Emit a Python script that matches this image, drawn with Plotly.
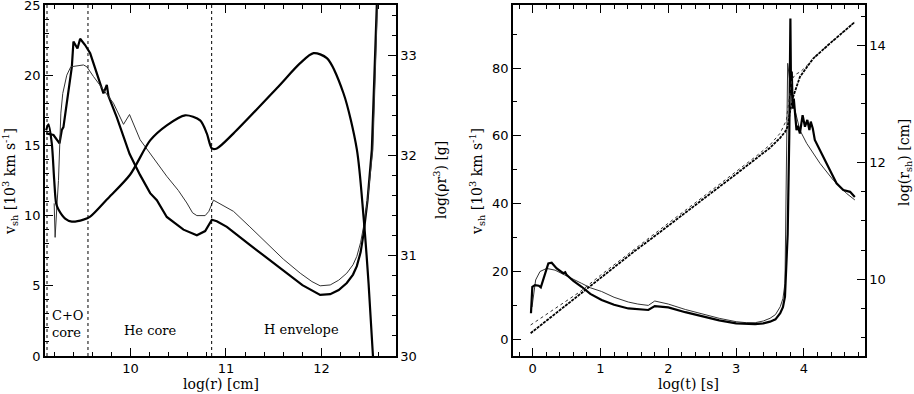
import plotly.graph_objects as go
from plotly.subplots import make_subplots

# ---------------- Left panel data ----------------
# log(rho r^3) vs log(r)  (right axis)
lr_rho = [9.117, 9.141, 9.176, 9.201, 9.222, 9.246, 9.316, 9.386, 9.508, 9.578, 9.752, 9.997,
          10.206, 10.380, 10.572, 10.729, 10.799, 10.852, 10.904, 11.079, 11.532, 11.777,
          11.917, 12.056, 12.230, 12.370, 12.440, 12.493, 12.545]
rho_r3 = [32.25, 32.31, 32.12, 31.76, 31.52, 31.46, 31.37, 31.34, 31.36, 31.39, 31.56, 31.81,
          32.15, 32.30, 32.40, 32.35, 32.22, 32.07, 32.07, 32.22, 32.67, 32.92,
          33.02, 32.97, 32.62, 32.06, 31.39, 30.72, 29.90]

# v_sh vs log(r), thick model
lr_v_thick = [9.117, 9.194, 9.257, 9.281, 9.298, 9.386, 9.403, 9.445, 9.473, 9.525, 9.578,
              9.647, 9.717, 9.752, 9.770, 9.857, 9.92, 9.990, 10.1, 10.206, 10.276, 10.380,
              10.555, 10.695, 10.782, 10.852, 10.904, 11.009, 11.253, 11.602, 11.8, 11.986,
              12.091, 12.18, 12.265, 12.33, 12.370, 12.41, 12.440, 12.482, 12.527, 12.579]
v_thick = [15.86, 15.74, 15.15, 16.1, 16.3, 20.6, 22.4, 21.9, 22.6, 22.15, 21.56,
           20.1, 18.7, 19.3, 18.5, 17.0, 15.7, 14.4, 12.9, 11.6, 11.1, 9.9,
           9.0, 8.6, 8.9, 9.7, 9.6, 9.2, 7.9, 6.1, 5.05, 4.35,
           4.4, 4.7, 5.2, 5.8, 6.4, 7.4, 8.7, 11.1, 14.7, 25.0]

# v_sh vs log(r), thin model
lr_v_thin = [9.201, 9.211, 9.229, 9.246, 9.271, 9.291, 9.333, 9.375, 9.508, 9.543, 9.613,
             9.735, 9.822, 9.927, 9.990, 10.101, 10.25, 10.380, 10.5, 10.590, 10.65, 10.695,
             10.782, 10.82, 10.869, 11.079, 11.25, 11.428, 11.6, 11.777, 11.9, 11.986,
             12.091, 12.18, 12.265, 12.33, 12.370, 12.41, 12.440, 12.482, 12.538, 12.586]
v_thin = [10.87, 8.45, 10.6, 12.5, 17.3, 18.7, 20.0, 20.6, 20.73, 20.6, 19.9,
          18.8, 18.0, 16.5, 17.2, 15.4, 14.0, 12.8, 11.8, 10.9, 10.2, 10.0,
          10.0, 10.3, 11.1, 10.3, 9.2, 8.0, 6.9, 5.9, 5.3, 5.0,
          5.06, 5.4, 5.9, 6.5, 7.1, 8.1, 9.2, 11.1, 14.7, 25.0]

# composition boundaries, log(r)
boundaries = [9.126, 9.555, 10.85]
region_labels = ["C+O<br>core", "He core", "H envelope"]

# ---------------- Right panel data ----------------
lt_v_thick = [-0.025, -0.005, 0.034, 0.09, 0.12, 0.157, 0.206, 0.231, 0.28, 0.354, 0.45,
              0.48, 0.50, 0.6, 0.722, 0.85, 1.017, 1.2, 1.41, 1.55, 1.705, 1.80, 2.0, 2.25,
              2.5, 2.75, 3.0, 3.15, 3.28, 3.4, 3.5, 3.58, 3.65, 3.69, 3.72, 3.76, 3.784,
              3.80, 3.81, 3.82, 3.835, 3.85, 3.867, 3.89, 3.91, 3.94, 3.98, 4.015, 4.05,
              4.08, 4.10, 4.13, 4.16, 4.21, 4.285, 4.38, 4.48, 4.58, 4.68, 4.75]
tv_thick = [7.7, 15.5, 16.0, 15.8, 15.3, 17.5, 20.9, 22.4, 22.6, 20.9, 19.5,
            19.8, 19.0, 17.2, 15.5, 13.4, 11.6, 10.2, 9.1, 8.9, 8.65, 9.8, 9.4, 8.0,
            6.7, 5.6, 4.7, 4.5, 4.5, 4.7, 5.2, 5.9, 7.7, 9.5, 12.6, 31.0, 60.7,
            94.6, 72.0, 79.0, 68.0, 71.0, 66.6, 61.7, 63.0, 60.7, 66.1, 62.7, 64.7,
            61.7, 64.2, 62.2, 58.8, 56.8, 53.9, 49.9, 46.0, 44.0, 43.5, 42.0]

lt_v_thin = [-0.01, 0.01, 0.044, 0.108, 0.206, 0.33, 0.5, 0.6, 0.722, 0.85, 1.017, 1.2,
             1.41, 1.55, 1.705, 1.80, 2.0, 2.25, 2.5, 2.75, 3.0, 3.15, 3.28, 3.4, 3.5, 3.58,
             3.65, 3.69, 3.72, 3.745, 3.76, 3.784, 3.818, 3.867, 3.94, 4.04, 4.236, 4.43,
             4.63, 4.75]
tv_thin = [9.5, 12.5, 17.5, 20.0, 20.9, 20.4, 18.8, 17.8, 16.5, 15.2, 14.1, 12.4,
           11.0, 10.4, 10.0, 11.3, 10.4, 8.8, 7.4, 6.2, 5.2, 4.9, 4.9, 5.4, 6.2, 7.3,
           9.6, 12.0, 16.5, 51.0, 81.4, 77.4, 71.5, 67.6, 61.7, 57.8, 51.9, 47.0,
           43.0, 41.1]

lt_r_thick = [-0.03, 0.3, 0.7, 1.0, 1.5, 1.8, 2.0, 2.5, 3.0, 3.3, 3.5, 3.65, 3.72,
              3.76, 3.79, 3.84, 3.94, 4.05, 4.14, 4.38, 4.55, 4.75]
r_thick = [9.08, 9.38, 9.75, 10.03, 10.48, 10.74, 10.92, 11.36, 11.80, 12.07, 12.25,
           12.42, 12.52, 12.61, 12.84, 13.12, 13.46, 13.64, 13.78, 14.03, 14.20, 14.40]

lt_r_thin = [-0.03, 0.3, 0.7, 1.0, 1.5, 1.8, 2.0, 2.5, 3.0, 3.3, 3.5, 3.65, 3.74,
             3.78, 3.82, 3.87, 3.95, 4.05, 4.14, 4.38, 4.55, 4.75]
r_thin = [9.22, 9.48, 9.79, 10.07, 10.52, 10.78, 10.96, 11.40, 11.84, 12.11, 12.30,
          12.50, 12.72, 13.05, 13.41, 13.50, 13.55, 13.66, 13.78, 14.03, 14.20, 14.40]

# ---------------- Figure ----------------
W, H = 914, 394
TOP, BOT = 5, 38
PH = H - TOP - BOT


def py(y):
    """page pixel row -> paper y"""
    return (H - BOT - y) / PH


fig = make_subplots(rows=1, cols=2,
                    specs=[[{"secondary_y": True}, {"secondary_y": True}]])

THICK = dict(color="black", width=2.2)
THIN = dict(color="#333333", width=1)

fig.add_trace(go.Scatter(x=lr_rho, y=rho_r3, mode="lines",
                         line=dict(color="black", width=2.2, shape="spline", smoothing=0.8)),
              row=1, col=1, secondary_y=True)
fig.add_trace(go.Scatter(x=lr_v_thick, y=v_thick, mode="lines", line=THICK),
              row=1, col=1, secondary_y=False)
fig.add_trace(go.Scatter(x=lr_v_thin, y=v_thin, mode="lines", line=THIN),
              row=1, col=1, secondary_y=False)

fig.add_trace(go.Scatter(x=lt_r_thin, y=r_thin, mode="lines",
                         line=dict(color="#333333", width=1, dash="dot")),
              row=1, col=2, secondary_y=True)
fig.add_trace(go.Scatter(x=lt_r_thick, y=r_thick, mode="lines",
                         line=dict(color="black", width=1.8, dash="3px,1px")),
              row=1, col=2, secondary_y=True)
fig.add_trace(go.Scatter(x=lt_v_thin, y=tv_thin, mode="lines", line=THIN),
              row=1, col=2, secondary_y=False)
fig.add_trace(go.Scatter(x=lt_v_thick, y=tv_thick, mode="lines", line=THICK),
              row=1, col=2, secondary_y=False)

tickfont = dict(family="DejaVu Sans", size=13, color="black")
axis_common = dict(showgrid=False, zeroline=False, showline=True, linecolor="black",
                   linewidth=1.5, ticks="inside", ticklen=8, tickwidth=1,
                   tickcolor="black", tickfont=tickfont, ticklabeloverflow="allow")


def minor(d):
    return dict(dtick=d, tick0=0, ticks="inside", ticklen=4, tickcolor="black", tickwidth=1)


left_dom = [45 / W, 396 / W]
right_dom = [513 / W, 865 / W]

fig.update_xaxes(**axis_common, mirror="ticks", domain=left_dom, range=[9.105, 12.78],
                 dtick=1, tick0=0, minor=minor(0.2), row=1, col=1)
fig.update_xaxes(**axis_common, mirror="ticks", domain=right_dom, range=[-0.29, 4.9],
                 dtick=1, tick0=0, minor=minor(0.2), row=1, col=2)

fig.update_yaxes(**axis_common, range=[0, 25], dtick=5, tick0=0, minor=minor(1),
                 row=1, col=1, secondary_y=False)
fig.update_yaxes(**axis_common, range=[30, 33.5], dtick=1, tick0=0, minor=minor(0.2),
                 row=1, col=1, secondary_y=True)
fig.update_yaxes(**axis_common, range=[-4.92, 98.6], dtick=20, tick0=0, minor=minor(10),
                 row=1, col=2, secondary_y=False)
fig.update_yaxes(**axis_common, range=[8.69, 14.69], dtick=2, tick0=0, minor=minor(0.5),
                 row=1, col=2, secondary_y=True)

# composition boundaries
for b in boundaries:
    fig.add_shape(type="line", xref="x", yref="y domain", x0=b, x1=b, y0=0, y1=1,
                  line=dict(color="black", width=1, dash="dot"))

sfont = dict(family="DejaVu Serif", size=13, color="black")
tfont = dict(family="DejaVu Serif", size=14, color="black")
# region labels
fig.add_annotation(x=9.155, y=2.3, xref="x", yref="y", text=region_labels[0],
                   showarrow=False, xanchor="left", yanchor="middle", align="left",
                   font=sfont)
fig.add_annotation(x=10.2, y=1.85, xref="x", yref="y", text=region_labels[1],
                   showarrow=False, xanchor="center", yanchor="middle", font=sfont)
fig.add_annotation(x=11.79, y=1.9, xref="x", yref="y", text=region_labels[2],
                   showarrow=False, xanchor="center", yanchor="middle", font=sfont)

# axis titles
fig.add_annotation(x=221 / W, y=py(384), xref="paper", yref="paper", text="log(r) [cm]",
                   showarrow=False, font=tfont, xanchor="center", yanchor="middle")
fig.add_annotation(x=688 / W, y=py(384), xref="paper", yref="paper", text="log(t) [s]",
                   showarrow=False, font=tfont, xanchor="center", yanchor="middle")
fig.add_annotation(x=10 / W, y=py(182), xref="paper", yref="paper",
                   text="v<sub>sh</sub> [10<sup>3</sup> km s<sup>-1</sup>]",
                   textangle=-90, showarrow=False, font=tfont,
                   xanchor="center", yanchor="middle")
fig.add_annotation(x=440 / W, y=py(180), xref="paper", yref="paper",
                   text="log(ρr<sup>3</sup>) [g]",
                   textangle=-90, showarrow=False, font=tfont,
                   xanchor="center", yanchor="middle")
fig.add_annotation(x=477 / W, y=py(182), xref="paper", yref="paper",
                   text="v<sub>sh</sub> [10<sup>3</sup> km s<sup>-1</sup>]",
                   textangle=-90, showarrow=False, font=tfont,
                   xanchor="center", yanchor="middle")
fig.add_annotation(x=905 / W, y=py(163), xref="paper", yref="paper",
                   text="log(r<sub>sh</sub>) [cm]",
                   textangle=-90, showarrow=False, font=tfont,
                   xanchor="center", yanchor="middle")

fig.update_layout(width=W, height=H, showlegend=False,
                  margin=dict(l=0, r=0, t=TOP, b=BOT, autoexpand=False),
                  paper_bgcolor="white", plot_bgcolor="white")

fig.write_html("out.html", config={"displayModeBar": False},
               post_script="document.body.style.margin='0';document.body.style.padding='0';")
